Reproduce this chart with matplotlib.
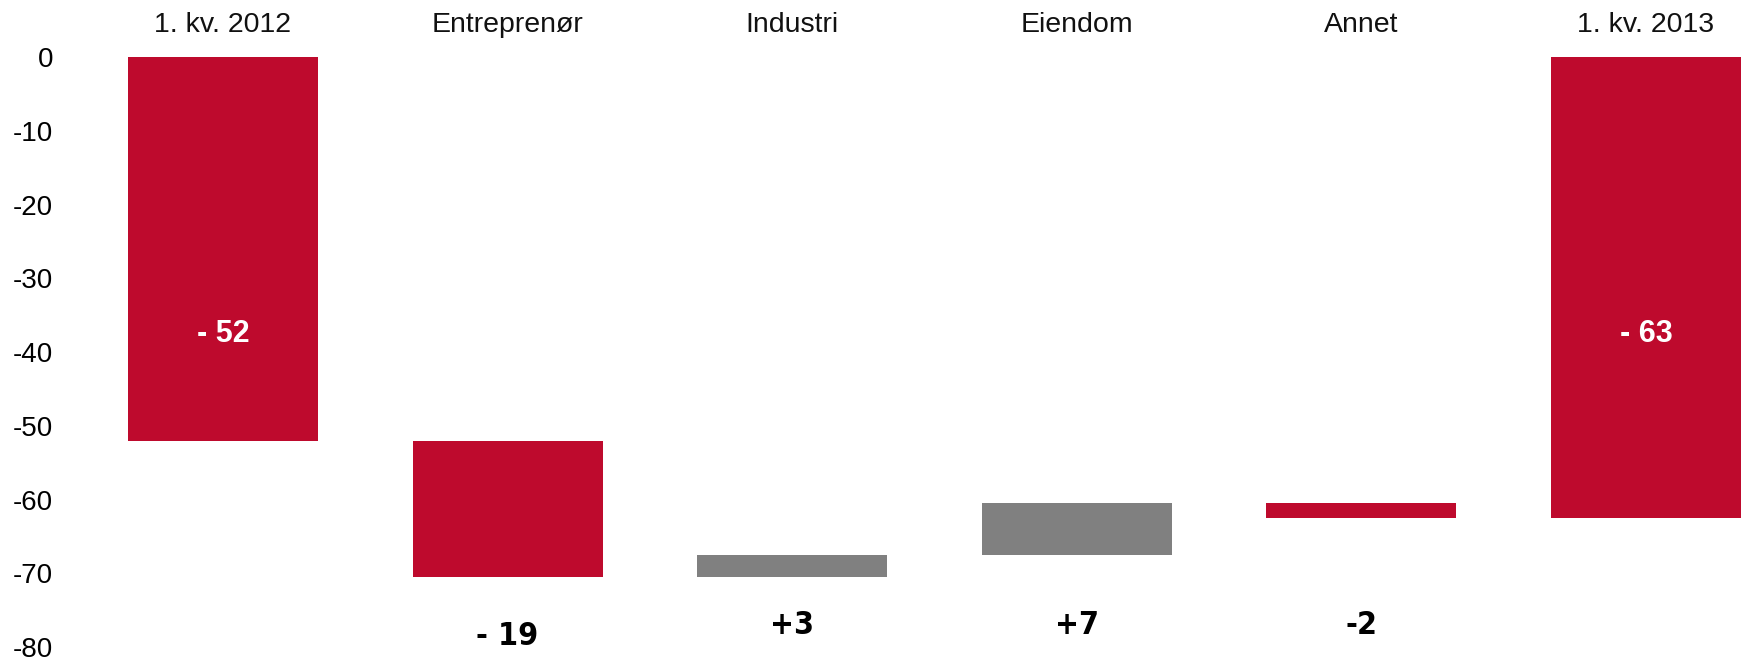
import matplotlib
matplotlib.use("Agg")
import matplotlib.pyplot as plt
from matplotlib import font_manager

categories = ["1. kv. 2012", "Entreprenør", "Industri", "Eiendom", "Annet", "1. kv. 2013"]
bar_top = [0, -52, -67.5, -60.5, -60.5, 0]
bar_bottom = [-52, -70.5, -70.5, -67.5, -62.5, -62.5]
labels = ["- 52", "- 19", "+3", "+7", "-2", "- 63"]
label_y = [-37.5, -78.6, -77.1, -77.1, -77.1, -37.5]
colors_kind = ["red", "red", "grey", "grey", "red", "red"]
label_white = [True, False, False, False, False, True]
yticks = [0, -10, -20, -30, -40, -50, -60, -70, -80]

RED = "#BE0A2D"
GREY = "#808080"

fl = font_manager.fontManager.ttflist
names = {f.name for f in fl}
base = "Liberation Sans" if "Liberation Sans" in names else "DejaVu Sans"
narrow_family = None
narrow_stretch = "normal"
if "Liberation Sans Narrow" in names:
    narrow_family = "Liberation Sans Narrow"
else:
    for f in fl:
        st = f.stretch
        if f.name == "DejaVu Sans" and (st == "condensed" or (isinstance(st, int) and st < 500)):
            narrow_family = "DejaVu Sans"
            narrow_stretch = "condensed"
            break
plt.rcParams["font.family"] = [base, "DejaVu Sans"]

W, H = 1750, 661
fig = plt.figure(figsize=(W / 100, H / 100), dpi=100)
ax_left, ax_right = 80.7, 1750
ax_top, ax_bot = 57.3, 647.1
ax = fig.add_axes([ax_left / W, 1 - ax_bot / H, (ax_right - ax_left) / W, (ax_bot - ax_top) / H])

x = list(range(len(categories)))
heights = [t - b for t, b in zip(bar_top, bar_bottom)]
cols = [RED if c == "red" else GREY for c in colors_kind]
ax.bar(x, heights, bottom=bar_bottom, width=0.667, color=cols, edgecolor="none")

for xi, lab, ly, w in zip(x, labels, label_y, label_white):
    if w:
        ax.text(xi, ly, lab, ha="center", va="center", fontsize=22, fontweight="bold",
                color="white", family=[base, "DejaVu Sans"])
    else:
        if narrow_family:
            ax.text(xi, ly, lab, ha="center", va="center", fontsize=23, fontweight="bold",
                    color="black", family=[narrow_family, "DejaVu Sans"], fontstretch=narrow_stretch)
        else:
            ax.text(xi, ly, lab, ha="center", va="center", fontsize=19, fontweight="bold",
                    color="black", family=[base, "DejaVu Sans"])

for xi, c in zip(x, categories):
    ax.annotate(c, (xi, 1), xycoords=ax.get_xaxis_transform(), xytext=(0, 18.4),
                textcoords="offset points", ha="center", va="baseline", fontsize=20.5,
                color="#111111")

span = 284.6
ax.set_xlim(-0.5, -0.5 + (ax_right - ax_left) / span)
ax.set_ylim(-80, 0)
ax.set_yticks(yticks)
ax.set_yticklabels([str(v) for v in yticks], fontsize=20)
ax.set_xticks([])
ax.tick_params(axis="y", length=0, pad=20)
for s in ax.spines.values():
    s.set_visible(False)

fig.savefig("out.png", dpi=100)
